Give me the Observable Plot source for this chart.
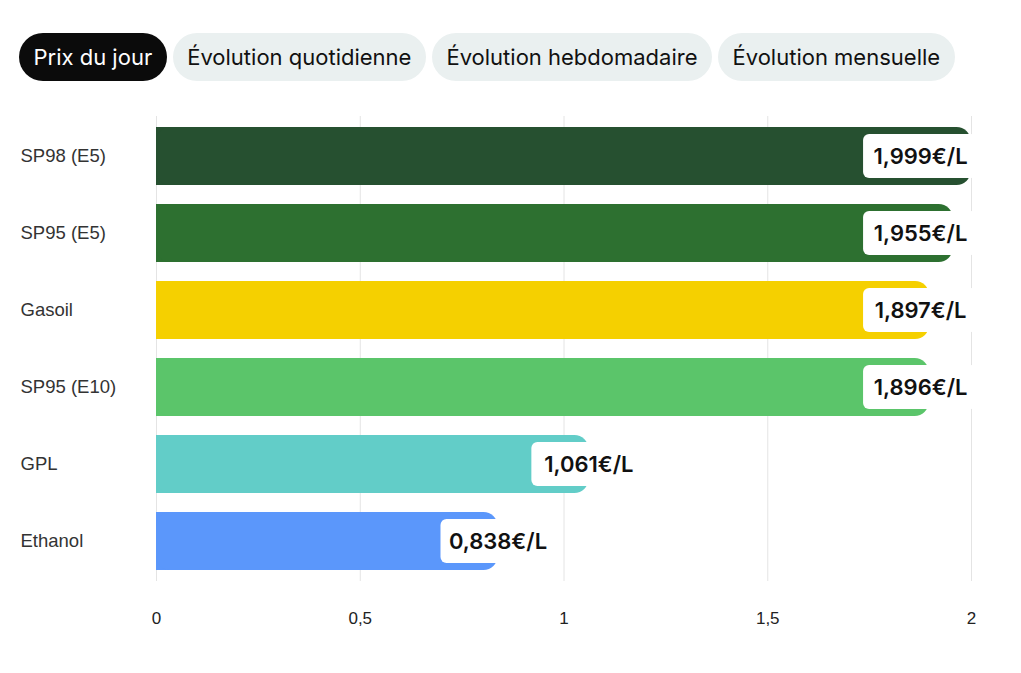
<!DOCTYPE html>
<html>
<head>
<meta charset="utf-8">
<script src="https://cdn.jsdelivr.net/npm/d3@7"></script>
<script src="https://cdn.jsdelivr.net/npm/@observablehq/plot@0.6"></script>
<style>
  html, body { margin: 0; padding: 0; background: #fff; }
  body { width: 1021px; height: 673px; overflow: hidden; font-family: Inter, "Noto Sans", sans-serif; }
  .tabs { position: absolute; left: 19px; top: 33px; display: flex; gap: 6px; }
  .tab { height: 48px; line-height: 48px; padding: 0 14.5px; border-radius: 24px; background: #eaf0f0; color: #111; font-size: 22px; font-family: Inter, sans-serif; white-space: nowrap; }
  .tab.active { background: #0b0b0b; color: #fff; }
  #chart { position: absolute; left: 0; top: 95px; }
</style>
</head>
<body>
<div class="tabs" id="tabs"></div>
<div id="chart"></div>
<script>
const tabs = ["Prix du jour", "Évolution quotidienne", "Évolution hebdomadaire", "Évolution mensuelle"];
const fuels = ["SP98 (E5)", "SP95 (E5)", "Gasoil", "SP95 (E10)", "GPL", "Ethanol"];
const prices = [1.999, 1.955, 1.897, 1.896, 1.061, 0.838];
const colors = ["#265030", "#2d7030", "#f5d000", "#5bc56a", "#62cdc8", "#5b97fb"];
const xTicks = [0, 0.5, 1, 1.5, 2];

const tabsEl = document.getElementById("tabs");
tabs.forEach((t, i) => {
  const d = document.createElement("div");
  d.className = "tab" + (i === 0 ? " active" : "");
  d.textContent = t;
  tabsEl.appendChild(d);
});

const data = fuels.map((f, i) => ({fuel: f, price: prices[i], color: colors[i]}));
const fmtPrice = v => v.toFixed(3).replace(".", ",") + "€/L";
const labelX = v => Math.min(v, 1.875);

const chart = Plot.plot({
  width: 1021,
  height: 578,
  marginTop: 21,
  marginBottom: 92,
  marginLeft: 156,
  marginRight: 50,
  style: {fontFamily: "'Liberation Sans', Arial, sans-serif", background: "transparent"},
  x: {domain: [0, 2], ticks: xTicks},
  y: {domain: fuels, paddingInner: 0.25, paddingOuter: 0.125},
  marks: [
    Plot.gridX(xTicks, {stroke: "#e4e4e4", strokeOpacity: 1, strokeWidth: 1}),
    Plot.barX(data, {x1: 0, x2: d => d.price / 2, y: "fuel", fill: "color"}),
    Plot.barX(data, {x1: 0, x2: "price", y: "fuel", fill: "color", rx: 14}),
    Plot.barX(data, {x1: d => labelX(d.price), x2: d => labelX(d.price), y: "fuel", fill: "white", rx: 6,
      insetLeft: -57, insetRight: -57, insetTop: 7, insetBottom: 7,
      style: {filter: "drop-shadow(0 0 2px rgba(0,0,0,0.18))"}}),
    Plot.text(data, {x: d => labelX(d.price), y: "fuel", text: d => fmtPrice(d.price), fill: "#111",
      fontSize: 22, fontWeight: 600, fontFamily: "Inter, sans-serif"}),
    Plot.axisX({ticks: xTicks, tickSize: 0, tickPadding: 30, tickFormat: d => String(d).replace(".", ","),
      fontSize: 17, fill: "#222", fontFamily: "'Liberation Sans Narrow', 'Liberation Sans', sans-serif", label: null}),
    Plot.axisY({tickSize: 0, tickPadding: 136, textAnchor: "start", fontSize: 18.5, fill: "#333", label: null})
  ]
});
document.getElementById("chart").appendChild(chart);
</script>
</body>
</html>
